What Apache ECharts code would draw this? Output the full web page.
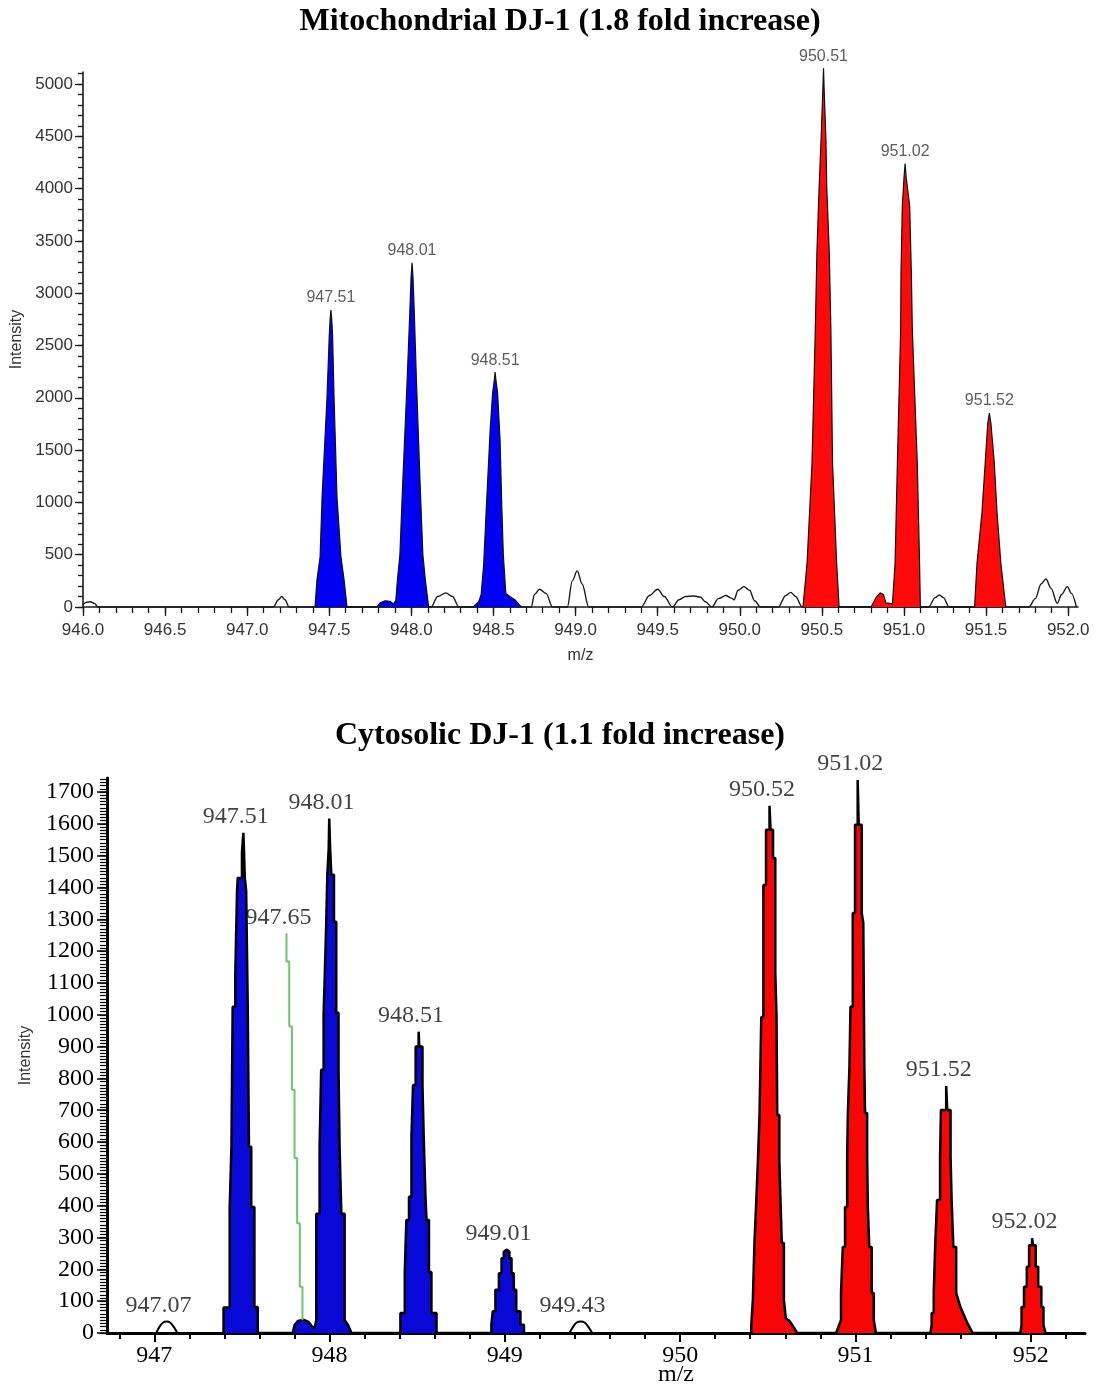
<!DOCTYPE html>
<html><head><meta charset="utf-8">
<script src="https://cdn.jsdelivr.net/npm/echarts@6/dist/echarts.min.js"></script>
<style>html,body{margin:0;padding:0;background:#fff}#c{width:1096px;height:1386px}</style>
</head><body><div id="c"></div>
<script>
// ---------- Mitochondrial DJ-1 (top) ----------
const mitoXTicks = [946.0, 946.5, 947.0, 947.5, 948.0, 948.5, 949.0, 949.5, 950.0, 950.5, 951.0, 951.5, 952.0];
const mitoYTicks = [0, 500, 1000, 1500, 2000, 2500, 3000, 3500, 4000, 4500, 5000];
const mitoBlue = [
  [947.413,0],[947.425,260],[947.444,480],[947.456,1050],[947.486,2000],[947.50,2600],[947.505,2750],[947.51,2840],[947.515,2750],[947.52,2600],[947.529,2000],[947.547,1050],[947.571,480],[947.59,260],[947.608,0],
  [947.79,0],[947.81,40],[947.84,60],[947.87,55],[947.89,30],[947.905,60],[947.915,260],[947.93,500],[947.945,1100],[947.975,2200],[947.99,2800],[947.998,3150],[948.004,3290],[948.01,3150],[948.018,2800],[948.03,2200],[948.055,1100],[948.07,500],[948.085,260],[948.105,0],
  [948.375,0],[948.41,50],[948.425,120],[948.44,400],[948.455,900],[948.48,1700],[948.495,2050],[948.505,2170],[948.51,2245],[948.515,2170],[948.525,2050],[948.54,1600],[948.55,1000],[948.56,500],[948.575,130],[948.6,100],[948.63,70],[948.67,0]
];
const mitoRed = [
  [950.385,0],[950.41,420],[950.44,1380],[950.46,2650],[950.47,3400],[950.483,4000],[950.495,4460],[950.505,4900],[950.51,5150],[950.515,4900],[950.525,4460],[950.53,4000],[950.545,3400],[950.555,2650],[950.565,1380],[950.59,420],[950.605,0],
  [950.80,0],[950.83,90],[950.855,135],[950.875,120],[950.89,40],[950.915,35],
  [950.93,30],[950.946,420],[950.96,1380],[950.98,2650],[950.982,3190],[950.99,3830],[951.0,4100],[951.007,4240],[951.014,4100],[951.035,3830],[951.045,3190],[951.051,2650],[951.081,1380],[951.095,420],[951.1,0],
  [951.43,0],[951.445,420],[951.475,900],[951.495,1380],[951.51,1750],[951.52,1855],[951.53,1750],[951.55,1380],[951.567,900],[951.59,420],[951.62,0]
];
const mitoNoise = [
  [946.0,20],[946.02,45],[946.045,50],[946.07,35],[946.09,0],
  [947.16,0],[947.19,70],[947.21,100],[947.23,70],[947.255,0],
  [948.12,0],[948.16,100],[948.21,135],[948.25,100],[948.29,0],
  [948.73,0],[948.75,120],[948.78,170],[948.82,130],[948.86,0],
  [948.95,0],[948.98,250],[949.01,345],[949.04,220],[949.08,0],
  [949.40,0],[949.45,110],[949.50,170],[949.54,100],[949.59,0],
  [949.63,70],[949.67,100],[949.72,105],[949.76,95],[949.79,50],[949.83,0],
  [949.87,80],[949.915,110],[949.95,85],[949.965,70],[949.99,160],[950.025,195],[950.06,160],[950.09,60],[950.127,0],
  [950.235,0],[950.28,110],[950.31,140],[950.34,100],[950.38,0],
  [951.15,0],[951.19,90],[951.215,115],[951.24,90],[951.275,0],
  [951.76,0],[951.80,80],[951.835,220],[951.865,268],[951.895,180],[951.934,35],[951.96,120],[951.995,195],[952.02,130],[952.05,0]
];
const mitoPeakLabels = [
  [947.51, 2840, '947.51'], [948.004, 3290, '948.01'], [948.51, 2245, '948.51'],
  [950.51, 5150, '950.51'], [951.007, 4240, '951.02'], [951.52, 1855, '951.52']
];

// ---------- Cytosolic DJ-1 (bottom) ----------
const cytoXTicks = [947, 948, 949, 950, 951, 952];
const cytoYTicks = [0,100,200,300,400,500,600,700,800,900,1000,1100,1200,1300,1400,1500,1600,1700];
const cytoBlue = [
  [947.395,0],[947.395,80],[947.43,80],[947.43,395],[947.44,395],[947.44,585],[947.447,585],[947.447,1025],[947.462,1025],[947.462,1130],[947.472,1130],[947.472,1390],[947.476,1390],[947.476,1430],[947.50,1430],[947.50,1510],[947.508,1510],[947.508,1572],[947.512,1572],[947.512,1510],[947.516,1510],[947.516,1430],[947.524,1430],[947.524,1390],[947.533,1390],[947.533,1025],[947.54,1025],[947.54,585],[947.553,585],[947.553,396],[947.571,396],[947.571,82],[947.59,82],[947.59,0],
  [947.79,0],[947.80,25],[947.82,38],[947.85,42],[947.88,35],[947.90,20],[947.914,15],[947.924,40],[947.924,375],[947.943,375],[947.943,585],[947.952,585],[947.952,827],[947.966,827],[947.966,1006],[947.971,1006],[947.971,1094],[947.981,1094],[947.981,1292],[947.987,1292],[947.987,1440],[947.995,1440],[947.995,1524],[947.998,1524],[947.998,1617],[948.003,1617],[948.003,1524],[948.01,1524],[948.01,1440],[948.025,1440],[948.025,1292],[948.038,1292],[948.038,1006],[948.051,1006],[948.051,827],[948.057,827],[948.057,585],[948.067,585],[948.067,375],[948.086,375],[948.086,40],[948.105,25],[948.125,0],
  [948.404,0],[948.404,63],[948.429,63],[948.429,192],[948.438,192],[948.438,355],[948.453,355],[948.453,428],[948.467,428],[948.467,617],[948.476,617],[948.476,779],[948.491,779],[948.491,900],[948.508,900],[948.508,947],[948.512,947],[948.512,900],[948.53,900],[948.53,779],[948.537,779],[948.537,617],[948.547,617],[948.547,428],[948.553,428],[948.553,355],[948.567,355],[948.567,192],[948.581,192],[948.581,63],[948.61,63],[948.61,0],
  [948.923,0],[948.923,26],[948.931,26],[948.931,68],[948.946,68],[948.946,136],[948.966,136],[948.966,188],[948.981,188],[948.981,235],[948.994,235],[948.994,255],[949.009,262],[949.026,255],[949.026,235],[949.038,235],[949.038,188],[949.051,188],[949.051,136],[949.065,136],[949.065,68],[949.089,68],[949.089,26],[949.109,26],[949.109,0]
];
const cytoRed = [
  [950.406,0],[950.406,25],[950.415,25],[950.415,104],[950.424,104],[950.424,283],[950.434,283],[950.434,408],[950.444,408],[950.444,544],[950.453,544],[950.453,685],[950.463,685],[950.463,993],[950.475,993],[950.475,1408],[950.49,1408],[950.49,1581],[950.51,1581],[950.51,1657],[950.516,1657],[950.516,1581],[950.53,1581],[950.53,1493],[950.543,1493],[950.543,1131],[950.55,1131],[950.55,993],[950.554,993],[950.554,685],[950.566,685],[950.566,544],[950.573,544],[950.573,408],[950.58,408],[950.58,283],[950.592,283],[950.592,104],[950.603,104],[950.603,45],[950.62,40],[950.64,25],[950.668,0],
  [950.89,0],[950.918,41],[950.918,126],[950.928,126],[950.928,270],[950.941,270],[950.941,396],[950.953,396],[950.953,553],[950.957,553],[950.957,691],[950.966,691],[950.966,836],[950.972,836],[950.972,1025],[950.985,1025],[950.985,1320],[950.998,1320],[950.998,1597],[951.013,1597],[951.013,1738],[951.019,1738],[951.019,1597],[951.036,1597],[951.036,1320],[951.045,1320],[951.045,1289],[951.051,1289],[951.051,836],[951.055,836],[951.055,691],[951.067,691],[951.067,553],[951.071,553],[951.071,396],[951.079,396],[951.079,270],[951.093,270],[951.093,126],[951.105,126],[951.105,41],[951.117,0],
  [951.428,0],[951.435,25],[951.435,63],[951.447,63],[951.447,126],[951.455,126],[951.455,270],[951.466,270],[951.466,418],[951.483,418],[951.483,553],[951.488,553],[951.488,701],[951.518,701],[951.518,776],[951.524,776],[951.524,701],[951.543,701],[951.543,553],[951.549,553],[951.549,418],[951.559,418],[951.559,270],[951.575,270],[951.575,126],[951.60,80],[951.64,30],[951.669,0],
  [951.941,0],[951.948,25],[951.948,82],[951.962,82],[951.962,145],[951.978,145],[951.978,208],[951.991,208],[951.991,276],[952.008,276],[952.008,298],[952.014,298],[952.014,276],[952.029,276],[952.029,208],[952.043,208],[952.043,145],[952.061,145],[952.061,82],[952.073,82],[952.073,25],[952.085,0]
];
const cytoNoise1 = [[947.011,0],[947.03,20],[947.05,33],[947.07,36],[947.09,33],[947.11,20],[947.131,0]];
const cytoNoise2 = [[949.369,0],[949.39,20],[949.41,33],[949.432,36],[949.455,33],[949.475,20],[949.499,0]];
const cytoGreen = [[947.754,1256],[947.754,1167],[947.77,1167],[947.77,963],[947.785,963],[947.785,764],[947.80,764],[947.80,550],[947.815,550],[947.815,345],[947.83,345],[947.83,145],[947.845,145],[947.845,40]];
const cytoPeakLabels = [
  [947.07, 36, '947.07'], [947.51, 1572, '947.51'], [947.754, 1256, '947.65'], [948.0, 1617, '948.01'],
  [948.51, 947, '948.51'], [949.009, 262, '949.01'], [949.432, 36, '949.43'],
  [950.513, 1657, '950.52'], [951.016, 1738, '951.02'], [951.521, 776, '951.52'], [952.011, 298, '952.02']
];

// ---------- helpers (tick positions only) ----------
function steps(a, b, s) { const r = []; const n = Math.round((b - a) / s); for (let i = 0; i <= n; i++) r.push(+(a + i * s).toFixed(4)); return r; }
const mitoXMinor = steps(946.0, 952.0, 0.1);
const mitoYMinor = steps(0, 5100, 100);
const cytoXMinor = steps(946.8, 952.2, 0.2);
const cytoYMinor = steps(0, 1740, 10);

const sans = 'Liberation Sans, Arial, sans-serif';
const serif = 'Liberation Serif, Times New Roman, serif';
const topCol = '#1a1a1a', botCol = '#000';

const chart = echarts.init(document.getElementById('c'), null, { renderer: 'canvas' });
chart.setOption({
  animation: false,
  backgroundColor: '#fff',
  title: [
    { text: 'Mitochondrial DJ-1 (1.8 fold increase)', left: 560, top: 6, textAlign: 'center', padding: 0,
      textStyle: { fontFamily: serif, fontWeight: 'bold', fontSize: 32, color: '#000' } },
    { text: 'Cytosolic DJ-1 (1.1 fold increase)', left: 560, top: 720, textAlign: 'center', padding: 0,
      textStyle: { fontFamily: serif, fontWeight: 'bold', fontSize: 32, color: '#000' } },
    { text: 'm/z', left: 676, top: 1363, textAlign: 'center', padding: 0,
      textStyle: { fontFamily: serif, fontWeight: 'normal', fontSize: 24, color: '#000' } }
  ],
  grid: [
    { left: 83, top: 72, width: 995, height: 535 },
    { left: 107, top: 778, width: 978, height: 555 }
  ],
  xAxis: [
    { type: 'value', gridIndex: 0, min: 946.0, max: 952.06, position: 'bottom',
      name: 'm/z', nameLocation: 'middle', nameGap: 41,
      nameTextStyle: { fontFamily: sans, fontSize: 16, color: '#333' },
      axisLine: { show: true, onZero: false, lineStyle: { color: topCol, width: 1.6 } },
      axisTick: { show: true, length: 9, customValues: mitoXTicks, lineStyle: { color: topCol, width: 1.3 } },
      axisLabel: { show: true, customValues: mitoXTicks, margin: 15, fontFamily: sans, fontSize: 17, color: '#333',
        formatter: v => v.toFixed(1) },
      splitLine: { show: false } },
    { type: 'value', gridIndex: 0, min: 946.0, max: 952.06, position: 'bottom',
      axisLine: { show: false, onZero: false },
      axisTick: { show: true, length: 6, customValues: mitoXMinor, lineStyle: { color: topCol, width: 1.3 } },
      axisLabel: { show: false }, splitLine: { show: false } },
    { type: 'value', gridIndex: 1, min: 946.73, max: 952.31, position: 'bottom',
      axisLine: { show: true, onZero: false, lineStyle: { color: botCol, width: 3 } },
      axisTick: { show: true, length: 9, customValues: cytoXTicks, lineStyle: { color: botCol, width: 2 } },
      axisLabel: { show: true, customValues: cytoXTicks, margin: 11, fontFamily: serif, fontSize: 24, color: '#000',
        formatter: v => String(Math.round(v)) },
      splitLine: { show: false } },
    { type: 'value', gridIndex: 1, min: 946.73, max: 952.31, position: 'bottom',
      axisLine: { show: false, onZero: false },
      axisTick: { show: true, length: 6, customValues: cytoXMinor, lineStyle: { color: botCol, width: 2 } },
      axisLabel: { show: false }, splitLine: { show: false } }
  ],
  yAxis: [
    { type: 'value', gridIndex: 0, min: 0, max: 5115, position: 'left',
      name: 'Intensity', nameLocation: 'middle', nameGap: 58, nameRotate: 90,
      nameTextStyle: { fontFamily: sans, fontSize: 16, color: '#333' },
      axisLine: { show: true, onZero: false, lineStyle: { color: topCol, width: 1.6 } },
      axisTick: { show: true, length: 8, customValues: mitoYTicks, lineStyle: { color: topCol, width: 1.3 } },
      axisLabel: { show: true, customValues: mitoYTicks, margin: 10, fontFamily: sans, fontSize: 17, color: '#333',
        formatter: v => String(Math.round(v)) },
      splitLine: { show: false } },
    { type: 'value', gridIndex: 0, min: 0, max: 5115, position: 'left',
      axisLine: { show: false, onZero: false },
      axisTick: { show: true, length: 5, customValues: mitoYMinor, lineStyle: { color: topCol, width: 1.3 } },
      axisLabel: { show: false }, splitLine: { show: false } },
    { type: 'value', gridIndex: 1, min: 0, max: 1744, position: 'left',
      name: 'Intensity', nameLocation: 'middle', nameGap: 73, nameRotate: 90,
      nameTextStyle: { fontFamily: sans, fontSize: 16, color: '#333' },
      axisLine: { show: true, onZero: false, lineStyle: { color: botCol, width: 3 } },
      axisTick: { show: true, length: 10, customValues: cytoYTicks, lineStyle: { color: botCol, width: 1.5 } },
      axisLabel: { show: true, customValues: cytoYTicks, margin: 13, fontFamily: serif, fontSize: 24, color: '#000',
        formatter: v => String(Math.round(v)) },
      splitLine: { show: false } },
    { type: 'value', gridIndex: 1, min: 0, max: 1744, position: 'left',
      axisLine: { show: false, onZero: false },
      axisTick: { show: true, length: 7, customValues: cytoYMinor, lineStyle: { color: botCol, width: 1.2 } },
      axisLabel: { show: false }, splitLine: { show: false } }
  ],
  series: [
    { type: 'line', name: 'mitoNoise', data: mitoNoise, xAxisIndex: 0, yAxisIndex: 0, symbol: 'none', clip: false,
      smooth: 0.35, smoothMonotone: 'x', lineStyle: { color: '#1a1a1a', width: 1.4 }, z: 3 },
    { type: 'line', name: 'mitoBlue', data: mitoBlue, xAxisIndex: 0, yAxisIndex: 0, symbol: 'none', clip: false,
      lineStyle: { color: '#111', width: 1.2 }, areaStyle: { color: '#0000f2', opacity: 1 }, z: 4 },
    { type: 'line', name: 'mitoRed', data: mitoRed, xAxisIndex: 0, yAxisIndex: 0, symbol: 'none', clip: false,
      lineStyle: { color: '#111', width: 1.2 }, areaStyle: { color: '#ff0a0a', opacity: 1 }, z: 4 },
    { type: 'scatter', name: 'mitoLabels', data: mitoPeakLabels, xAxisIndex: 0, yAxisIndex: 0, symbolSize: 0, clip: false,
      label: { show: true, position: 'top', distance: 4, formatter: p => p.data[2], fontFamily: sans, fontSize: 16, color: '#333' }, z: 6 },

    { type: 'line', name: 'cytoNoise1', data: cytoNoise1, xAxisIndex: 2, yAxisIndex: 2, symbol: 'none', clip: false,
      smooth: 0.3, lineStyle: { color: '#000', width: 2 }, z: 3 },
    { type: 'line', name: 'cytoNoise2', data: cytoNoise2, xAxisIndex: 2, yAxisIndex: 2, symbol: 'none', clip: false,
      smooth: 0.3, lineStyle: { color: '#000', width: 2 }, z: 3 },
    { type: 'line', name: 'cytoBlue', data: cytoBlue, xAxisIndex: 2, yAxisIndex: 2, symbol: 'none', clip: false,
      lineStyle: { color: '#000', width: 2.5 }, areaStyle: { color: '#0a0ad8', opacity: 1 }, z: 4 },
    { type: 'line', name: 'cytoRed', data: cytoRed, xAxisIndex: 2, yAxisIndex: 2, symbol: 'none', clip: false,
      lineStyle: { color: '#000', width: 2.5 }, areaStyle: { color: '#f80505', opacity: 1 }, z: 4 },
    { type: 'line', name: 'cytoGreen', data: cytoGreen, xAxisIndex: 2, yAxisIndex: 2, symbol: 'none', clip: false,
      lineStyle: { color: '#6cc46c', width: 2 }, z: 5 },
    { type: 'scatter', name: 'cytoLabels', data: cytoPeakLabels, xAxisIndex: 2, yAxisIndex: 2, symbolSize: 0, clip: false,
      label: { show: true, position: 'top', distance: 4, offset: [-8, 0], formatter: p => p.data[2], fontFamily: serif, fontSize: 24, color: '#111' }, z: 6 }
  ]
});
</script></body></html>
